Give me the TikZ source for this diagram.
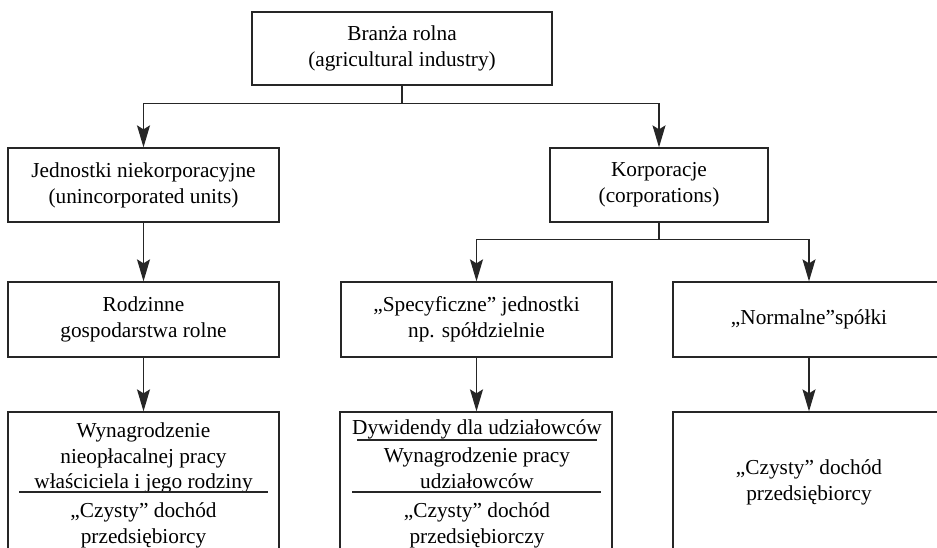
\documentclass[tikz,border=0pt]{standalone}
\usepackage{fontspec}
\setmainfont{Liberation Serif}
\usetikzlibrary{arrows.meta}
\begin{document}
\begin{tikzpicture}[x=1pt,y=-1pt,
  box/.style={draw=black!85,line width=1.3pt,rectangle,inner sep=0pt,align=center,
    font=\fontsize{21.3}{26}\selectfont},
  txt/.style={inner sep=0pt,anchor=base,font=\fontsize{21.3}{26}\selectfont},
  arr/.style={draw=black!85,line width=1.3pt,-{Stealth[length=22pt,width=13pt,inset=4pt]}},
  ln/.style={draw=black!85,line width=1.3pt},
  sep/.style={draw=black!85,line width=1.1pt}]
\useasboundingbox (0,0) rectangle (937,547);
\clip (0,0) rectangle (937,547);
\fill[white] (0,0) rectangle (937,547);
% boxes
\node[box,minimum width=300pt,minimum height=73pt] (top) at (402,48.5) {Branża rolna\\(agricultural industry)};
\node[box,minimum width=271pt,minimum height=74pt] (unin) at (143.5,185) {Jednostki niekorporacyjne\\(unincorporated units)};
\node[box,minimum width=218pt,minimum height=74pt] (corp) at (659,185) {Korporacje\\(corporations)};
\node[box,minimum width=271pt,minimum height=75pt] (rodz) at (143.5,319.5) {Rodzinne\\gospodarstwa rolne};
\node[box,minimum width=271pt,minimum height=75pt] (spec) at (476.5,319.5) {„Specyficzne” jednostki\\np. spółdzielnie};
\node[box,minimum width=272pt,minimum height=75pt] (norm) at (809,319.5) {„Normalne”spółki};
\node[box,minimum width=271pt,minimum height=188pt] (w1) at (143.5,506) {};
\node[box,minimum width=272pt,minimum height=188pt] (w2) at (476,506) {};
\node[box,minimum width=272pt,minimum height=188pt] (w3) at (809,506) {};
% texts in bottom boxes
\node[txt] (w1a) at (143.5,437) {Wynagrodzenie};
\node[txt] (w1b) at (143.5,463) {nieopłacalnej pracy};
\node[txt] (w1c) at (143.5,488) {właściciela i jego rodziny};
\node[txt] (w1d) at (143.5,517) {„Czysty” dochód};
\node[txt] (w1e) at (143.5,543) {przedsiębiorcy};
\node[txt] (w2a) at (477,434) {Dywidendy dla udziałowców};
\node[txt] (w2b) at (477,462) {Wynagrodzenie pracy};
\node[txt] (w2c) at (477,488) {udziałowców};
\node[txt] (w2d) at (477,517) {„Czysty” dochód};
\node[txt] (w2e) at (477,543) {przedsiębiorczy};
\node[txt] (w3a) at (809,474) {„Czysty” dochód};
\node[txt] (w3b) at (809,500) {przedsiębiorcy};
% separators
\draw[sep] (19,492) -- (268,492);
\draw[sep] (357,440) -- (597,440);
\draw[sep] (352,492) -- (601,492);
% connectors
\draw[ln] (top.south) -- ++(0,18) coordinate (j1);
\draw[arr] (j1) -| (unin.north);
\draw[arr] (j1) -| (corp.north);
\draw[ln] (corp.south) -- ++(0,17) coordinate (j2);
\draw[arr] (j2) -| (spec.north);
\draw[arr] (j2) -| (norm.north);
\draw[arr] (unin.south) -- (rodz.north);
\draw[arr] (rodz.south) -- (w1.north);
\draw[arr] (spec.south) -- (spec.south |- w2.north);
\draw[arr] (norm.south) -- (norm.south |- w3.north);
\end{tikzpicture}
\end{document}
